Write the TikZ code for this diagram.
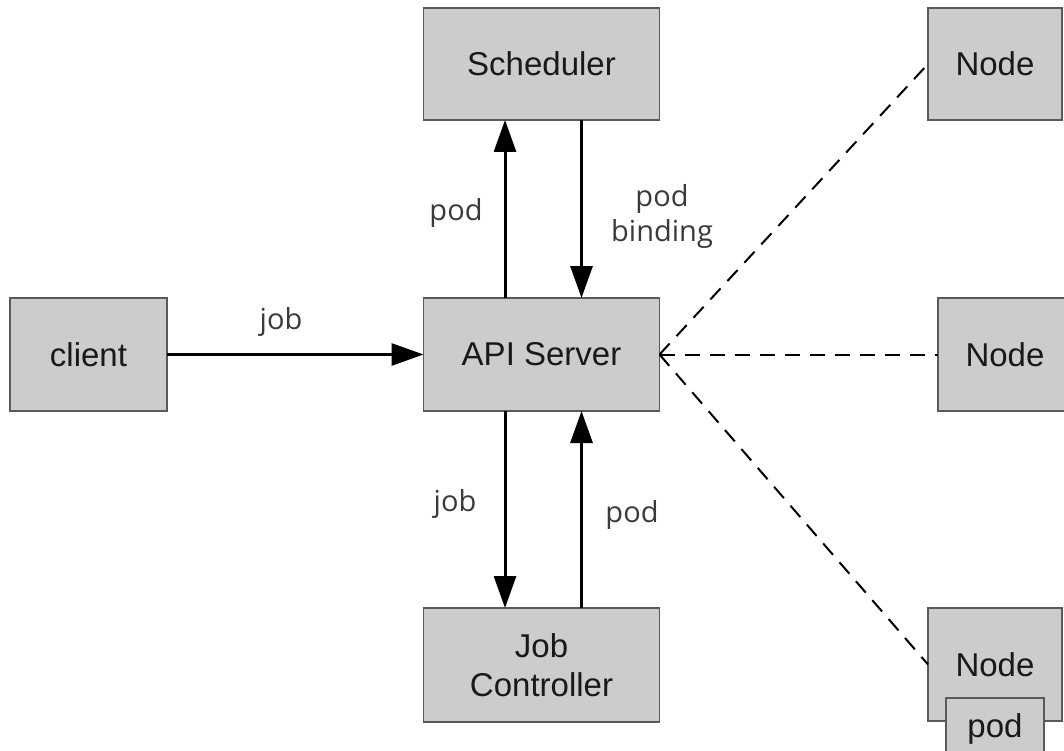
\documentclass[tikz,border=0pt]{standalone}
\usepackage{fontspec}
\setmainfont{Liberation Sans}
\newfontfamily\labfont{Open Sans}
\usetikzlibrary{arrows.meta}
\definecolor{boxfill}{HTML}{CCCCCC}
\definecolor{boxline}{HTML}{5A5A5A}
\definecolor{labcol}{HTML}{3A3A3A}
\tikzset{
  box/.style={draw=boxline, fill=boxfill, line width=1.5pt, inner sep=0pt, outer sep=0pt,
    align=center, font=\fontsize{33}{39}\selectfont, text=black!90},
  lab/.style={font=\labfont\fontsize{29}{35}\selectfont, text=labcol, align=center, inner sep=0pt},
  arr/.style={line width=3pt, -{Triangle[length=32pt,width=22pt]}},
  link/.style={line width=2pt, dash pattern=on 15pt off 10pt}
}
\begin{document}
\begin{tikzpicture}[x=1pt,y=-1pt]
\useasboundingbox (0,0) rectangle (1064,751);
\node[box, minimum width=236pt, minimum height=112pt] (sched) at (541.5,64) {Scheduler};
\node[box, minimum width=236pt, minimum height=113pt] (api) at (541.5,354.5) {API Server};
\node[box, minimum width=236pt, minimum height=114pt] (jc) at (541.5,665) {Job\\Controller};
\node[box, minimum width=157pt, minimum height=113pt] (client) at (88.5,354.5) {client};
\node[box, minimum width=134pt, minimum height=112pt] (n1) at (995,64) {Node};
\node[box, minimum width=134pt, minimum height=113pt] (n2) at (1005,354.5) {Node};
\node[box, minimum width=134pt, minimum height=113pt] (n3) at (995,664.5) {Node};
\node[box, minimum width=98pt, minimum height=64pt, anchor=north] (pod) at (995,698) {\raisebox{9pt}{pod}};

\draw[arr] (client.east) -- (api.west);
\draw[arr] ([xshift=-36.5pt]api.north) -- ([xshift=-36.5pt]sched.south);
\draw[arr] ([xshift=40pt]sched.south) -- ([xshift=40pt]api.north);
\draw[arr] ([xshift=-36.5pt]api.south) -- ([xshift=-36.5pt]jc.north);
\draw[arr] ([xshift=40pt]jc.north) -- ([xshift=40pt]api.south);

\draw[link] (api.east) -- (n1.west);
\draw[link] (api.east) -- (n2.west);
\draw[link] (api.east) -- (n3.west);

\node[lab] (l1) at (281,322) {job};
\node[lab] (l2) at (456,213) {pod};
\node[lab] (l3) at (662,216) {pod\\binding};
\node[lab] (l4) at (455,504) {job};
\node[lab] (l5) at (632,515) {pod};
\end{tikzpicture}
\end{document}
